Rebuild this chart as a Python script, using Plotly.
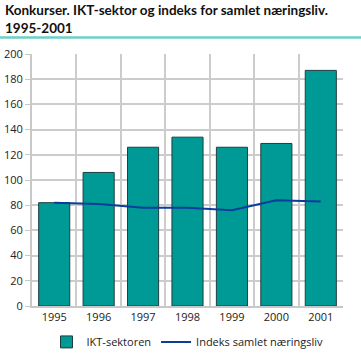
import plotly.graph_objects as go

years = ["1995", "1996", "1997", "1998", "1999", "2000", "2001"]
ikt = [82, 106, 126, 134, 126, 129, 187]
indeks = [82, 81, 78, 78, 76, 84, 83]
y_ticks = [0, 20, 40, 60, 80, 100, 120, 140, 160, 180, 200]

xs = list(range(len(years)))

fig = go.Figure()
fig.add_trace(go.Bar(
    x=xs, y=ikt, name="IKT-sektoren", width=0.7,
    marker=dict(color="#009a96", line=dict(color="#1f3d3d", width=1)),
))
fig.add_trace(go.Scatter(
    x=xs, y=indeks, name="Indeks samlet næringsliv", mode="lines",
    line=dict(color="#0b3d9c", width=2),
))
# invisible trace to drive category-boundary gridlines
fig.add_trace(go.Scatter(x=[-0.5, len(years) - 0.5], y=[0, 0], xaxis="x2",
                         mode="markers", marker=dict(opacity=0),
                         showlegend=False, hoverinfo="skip"))

fig.update_layout(
    width=361, height=361,
    margin=dict(l=32, r=18, t=54, b=55, autoexpand=False),
    paper_bgcolor="white", plot_bgcolor="white",
    font=dict(family="Open Sans, DejaVu Sans, sans-serif", size=11, color="#222"),
    xaxis=dict(
        range=[-0.5, len(years) - 0.5], tickvals=xs, ticktext=years,
        showgrid=False, showline=True, linecolor="#c8c8c8", linewidth=2,
        ticks="", zeroline=False, automargin=False,
    ),
    xaxis2=dict(
        overlaying="x", range=[-0.5, len(years) - 0.5], tick0=-0.5, dtick=1,
        showgrid=True, gridcolor="#cccccc", gridwidth=1.5,
        showticklabels=False, ticks="", zeroline=False, automargin=False,
    ),
    yaxis=dict(
        range=[0, 200], tickvals=y_ticks, showgrid=True, gridcolor="#cccccc",
        gridwidth=1.5, showline=True, linecolor="#c8c8c8", linewidth=2,
        ticks="outside", ticklen=5, tickcolor="#c8c8c8", zeroline=False,
        automargin=False,
    ),
    legend=dict(orientation="h", x=0.5, xanchor="center", y=-0.085, yanchor="top",
                font=dict(size=11)),
    annotations=[dict(
        text="<b>Konkurser. IKT-sektor og indeks for samlet næringsliv.<br>1995-2001</b>",
        xref="paper", yref="paper", x=-0.092, y=1.215, xanchor="left", yanchor="top",
        align="left", showarrow=False,
        font=dict(size=13.5, color="#111", family="Lato, Open Sans, sans-serif"),
    )],
    shapes=[dict(type="line", xref="paper", yref="paper", x0=-0.11, x1=1.07,
                 y0=1.065, y1=1.065, line=dict(color="#6ccfc9", width=2.5))],
)

fig.write_html("out.html", config={"displayModeBar": False},
               post_script="document.body.style.margin='0';")
